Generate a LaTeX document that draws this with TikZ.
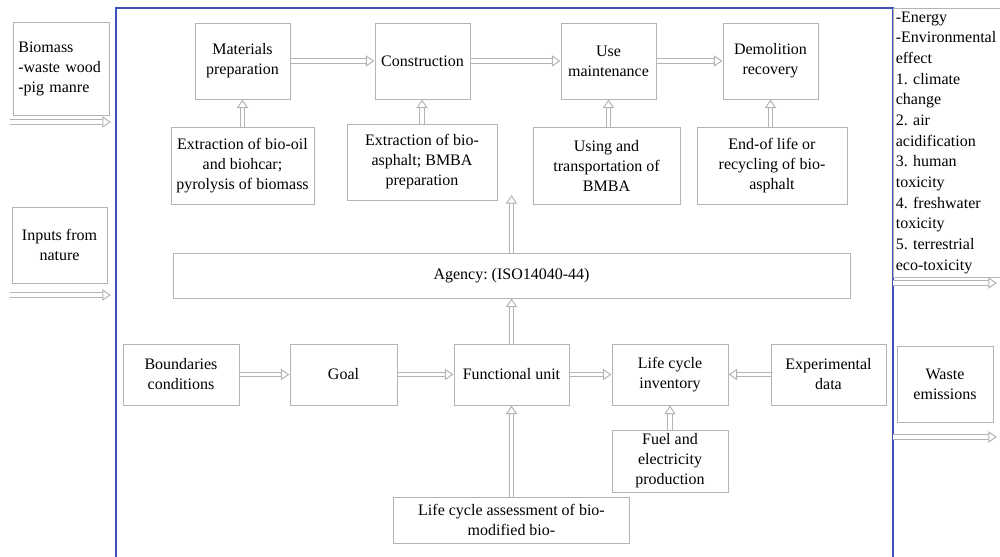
\documentclass[tikz,border=0pt]{standalone}
\usepackage{fontspec}
\setmainfont{Liberation Serif}
\usetikzlibrary{arrows.meta}
\definecolor{frameblue}{RGB}{60,80,190}
\definecolor{boxgray}{RGB}{180,180,180}
\frenchspacing
\begin{document}
\begin{tikzpicture}[x=0.75pt,y=-0.75pt,font=\fontsize{12pt}{15pt}\selectfont,
  box/.style 2 args={draw=boxgray,line width=0.75pt,text=black,align=center,inner sep=2pt,minimum width=#1,minimum height=#2},
  hollow/.style={draw=boxgray,line width=0.75pt,double=white,double distance=2.6pt,-{Triangle[open,length=6.5pt,width=8.5pt,line width=0.75pt]}}]
\useasboundingbox (0,0) rectangle (1000,557);
% system frame
\draw[frameblue,line width=0.9pt] (116,557)--(116,8)--(893,8)--(893,557);
% inputs
\node[box={72pt}{69.75pt},align=left,text width=64pt] (bio) at (61,68.5){Biomass\\-waste wood\\-pig manre};
\node[box={71.25pt}{57pt}] (nat) at (59.5,245){Inputs from\\nature};
\coordinate (i1a) at (10,122);\coordinate (i1b) at (111,122);
\coordinate (i2a) at (10,295);\coordinate (i2b) at (111,295);
\draw[hollow] (i1a)--(i1b);\draw[hollow] (i2a)--(i2b);
% life cycle stages
\node[box={71.25pt}{57pt}] (mat) at (242.5,61){Materials\\preparation};
\node[box={71.25pt}{57pt}] (con) at (422.5,61){Construction};
\node[box={71.25pt}{57pt}] (use) at (608.5,61){Use\\maintenance};
\node[box={71.25pt}{57pt}] (dem) at (770.5,61){Demolition\\recovery};
\draw[hollow] (mat)--(con);\draw[hollow] (con)--(use);\draw[hollow] (use)--(dem);
\node[box={107.25pt}{57.75pt}] (ext1) at (242.5,165.5){Extraction of bio-oil\\and biohcar;\\pyrolysis of biomass};
\node[box={112.5pt}{57pt}] (ext2) at (422,162){Extraction of bio-\\asphalt; BMBA\\preparation};
\node[box={110.25pt}{57.75pt}] (usg) at (606.5,165.5){Using and\\transportation of\\BMBA};
\node[box={112.5pt}{57.75pt}] (eol) at (772,165.5){End-of life or\\recycling of bio-\\asphalt};
\draw[hollow] (ext1)--(mat);\draw[hollow] (ext2.north)--(ext2.north|-con.south);
\draw[hollow] (usg.north-|use.south)--(use.south);\draw[hollow] (eol.north-|dem.south)--(dem.south);
% agency
\node[box={507.75pt}{33.75pt}] (agy) at (511.5,275.5){Agency: (ISO14040-44)};
\coordinate (up) at (511.5,195);
\draw[hollow] (agy.north)--(up);
% goal and scope
\node[box={87pt}{45.75pt}] (bnd) at (181,374.5){Boundaries\\conditions};
\node[box={80.25pt}{45.75pt}] (goal) at (343.5,374.5){Goal};
\node[box={86.25pt}{45.75pt}] (fun) at (511.5,374.5){Functional unit};
\node[box={87pt}{45.75pt}] (lci) at (670,374.5){Life cycle\\inventory};
\node[box={86.25pt}{45.75pt}] (exp) at (828.5,374.5){Experimental\\data};
\node[box={87pt}{46.5pt}] (fuel) at (670,461){Fuel and\\electricity\\production};
\node[box={177pt}{34.5pt}] (lca) at (511.5,520){Life cycle assessment of bio-\\modified bio-};
\draw[hollow] (bnd)--(goal);\draw[hollow] (goal)--(fun);\draw[hollow] (fun)--(lci);\draw[hollow] (exp)--(lci);
\draw[hollow] (fuel)--(lci);\draw[hollow] (lca)--(fun);\draw[hollow] (fun)--(agy);
% outputs
\node[box={80.25pt}{201.75pt},align=left,text width=76pt,inner sep=1.5pt,font=\fontsize{12pt}{15.5pt}\selectfont] (eff) at (946.5,142.5){-Energy\\-Environmental\\effect\\1. climate\\change\\2. air\\acidification\\3. human\\toxicity\\4. freshwater\\toxicity\\5. terrestrial\\eco-toxicity};
\node[box={72pt}{57pt}] (wst) at (945,384){Waste\\emissions};
\coordinate (o1a) at (893,283);\coordinate (o1b) at (997,283);
\coordinate (o2a) at (893,437);\coordinate (o2b) at (997,437);
\draw[hollow] (o1a)--(o1b);\draw[hollow] (o2a)--(o2b);
\end{tikzpicture}
\end{document}
